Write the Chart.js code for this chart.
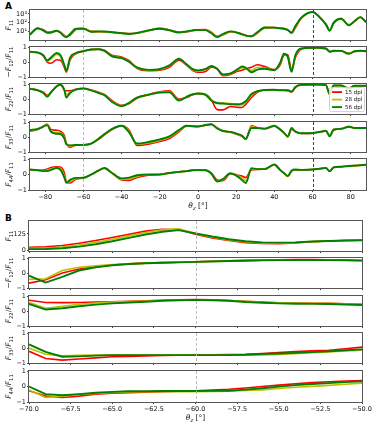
<!DOCTYPE html>
<html>
<head>
<meta charset="utf-8">
<script src="https://cdn.jsdelivr.net/npm/chart.js@4.4.1/dist/chart.umd.min.js"></script>
<style>
  body { margin: 0; background: #fff; width: 374px; height: 424px; position: relative; overflow: hidden; }
  canvas { position: absolute; left: 0; }
  .tag { position: absolute; left: 5px; font: bold 9px "DejaVu Sans"; line-height: 9px; color: #000; }
</style>
</head>
<body>
<div class="tag" style="top:2px">A</div>
<div class="tag" style="top:214px">B</div>
<script>
// ---- data ----
const SERIES = ['15 dpl', '28 dpl', '56 dpl'];
const COLORS = ['#ff0000', '#bfbf00', '#008000'];

// panel A: full angle range
const thetaA = [-88,-84,-81,-79,-77, -74,-72,-70,-69,-67, -64,-60,-56,-52,-49, -45,-40,-36,-32,-26,
  -20,-15,-10,-6,-3, 0,4,7,10,13, 17,21,23,25,28, 31,35,40,43,45, 47,49,51,54,60, 64,67,69,71,75, 79,82,85,88];
const ticksA = [-80, -60, -40, -20, 0, 20, 40, 60, 80];

const a11_15 = [4,22,15,8,7, 11,8,3.5,2.5,3.5, 16,22,10,9,9, 8,6.5,5.5,6,12,
  22,15,8,8.5,12, 15,16,8,2.8,4, 9,7,5,3.5,2.6, 6,25,28,23,21, 16,6,25,300,1650, 380,70,13,80,300, 55,130,420,120];
const a11_28 = [4.2,23,13,7.5,7.5, 11.5,7.5,3,2.3,4.2, 18,21,9.5,9.5,9.2, 8,6.2,5.2,6.2,12.5,
  21,14,7.8,9.2,12.5, 15,15,7,2.5,4.5, 9.5,6.8,4.8,3.4,2.7, 7,27,27.5,22.5,20.5, 15,6.8,32,320,1650, 360,65,12.5,90,290, 52,140,425,115];
const a11_56 = [4.3,23,12,7,8, 12,7,2.6,2.2,5, 20,20,9,10,9.5, 8,6,5,6.5,13,
  20,13,7.5,10,13, 15,14,6,2.2,5, 10,6.5,4.5,3.3,2.8, 8,28,27,22,20, 14,7.5,40,350,1650, 350,60,12,100,280, 50,150,430,110];

const a12_15 = [0.66,0.62,0.4,0,-0.08, 0.15,0.12,-0.35,-0.68,0.15, 0.55,0.72,0.83,0.85,0.78, 0.45,0.33,0.1,-0.42,-0.58,
  -0.55,-0.35,0.12,-0.2,-0.55, -0.68,-0.62,-0.35,-0.45,-0.9, -0.82,-0.6,-0.55,-0.45,-0.35, -0.18,-0.3,-0.5,-0.2,0.45,
  0.5,-0.5,0.3,0.85,0.95, 0.93,0.9,0.7,0.74,0.73, 0.58,0.7,0.74,0.7];
const a12_28 = [0.67,0.63,0.43,0.06,0.2, 0.5,0.35,-0.25,-0.62,0.25, 0.58,0.73,0.83,0.85,0.76, 0.4,0.28,0.03,-0.38,-0.54,
  -0.5,-0.26,0.2,-0.17,-0.5, -0.6,-0.5,-0.28,-0.42,-0.85, -0.78,-0.5,-0.4,-0.4,-0.55, -0.35,-0.4,-0.52,-0.1,0.52,
  0.4,-0.6,0.4,0.88,0.95, 0.94,0.9,0.69,0.75,0.74, 0.56,0.71,0.75,0.72];
const a12_56 = [0.68,0.64,0.45,0.1,0.3, 0.6,0.45,-0.2,-0.6,0.3, 0.6,0.73,0.83,0.85,0.74, 0.37,0.26,0,-0.35,-0.52,
  -0.46,-0.22,0.22,-0.15,-0.45, -0.55,-0.45,-0.26,-0.45,-0.82, -0.75,-0.45,-0.3,-0.38,-0.68, -0.5,-0.45,-0.54,-0.05,0.55,
  0.35,-0.65,0.45,0.9,0.95, 0.94,0.9,0.68,0.75,0.74, 0.55,0.72,0.75,0.73];

const a22_15 = [0.7,0.6,0.45,0.25,0.45, 0.85,0.93,0.6,0.55,0.55, 0.65,0.7,0.6,0.45,0.3, -0.1,-0.42,-0.3,0.05,0.3,
  0.48,0.55,0,0.1,0.28, 0.36,0.3,-0.05,-0.7,-0.72, -0.5,-0.55,-0.56,-0.35,0.1, 0.45,0.6,0.62,0.58,0.58,
  0.56,0.45,0.78,0.94,0.96, 0.96,0.93,0.3,0.9,0.9, 0.72,0.88,0.88,0.88];
const a22_28 = [0.69,0.59,0.42,0.2,0.45, 0.85,0.94,0.6,0.3,0.45, 0.63,0.7,0.59,0.42,0.27, -0.15,-0.45,-0.27,0.08,0.29,
  0.45,0.5,-0.05,0.13,0.29, 0.37,0.29,-0.08,-0.3,-0.25, -0.3,-0.4,-0.4,-0.22,0.25, 0.5,0.6,0.62,0.58,0.58,
  0.57,0.48,0.79,0.94,0.96, 0.96,0.93,0.32,0.9,0.9, 0.71,0.88,0.88,0.88];
const a22_56 = [0.68,0.58,0.4,0.15,0.45, 0.85,0.95,0.6,0.1,0.4, 0.62,0.7,0.58,0.4,0.25, -0.2,-0.47,-0.25,0.1,0.28,
  0.43,0.45,-0.1,0.15,0.3, 0.37,0.28,-0.1,-0.26,-0.3, -0.35,-0.35,-0.3,-0.15,0.33, 0.52,0.6,0.62,0.58,0.58,
  0.58,0.5,0.8,0.94,0.96, 0.96,0.93,0.33,0.9,0.9, 0.7,0.88,0.88,0.88];

const a33_15 = [0.4,0.5,0.72,0.85,0.5, 0.45,0.38,0.1,-0.4,-0.68, -0.55,-0.52,-0.45,-0.15,0.15, 0.5,0.75,0.45,-0.55,-0.47,
  -0.3,-0.1,0.35,0.72,0.72, 0.7,0.78,0.85,0.62,0.42, 0.32,0.15,0.05,-0.15,0.75, 0.62,0.55,0.72,0.52,0.3,
  0,0.5,0.38,0.24,0.26, 0.33,0.4,0.1,0.45,0.55, 0.7,0.6,0.6,0.62];
const a33_28 = [0.44,0.52,0.71,0.82,0.4, 0.3,0.28,-0.02,-0.45,-0.6, -0.54,-0.52,-0.44,-0.12,0.18, 0.52,0.75,0.38,-0.48,-0.4,
  -0.22,-0.02,0.42,0.74,0.72, 0.7,0.79,0.85,0.6,0.41, 0.33,0.18,0.08,-0.13,0.7, 0.61,0.56,0.74,0.51,0.29,
  0.03,0.55,0.36,0.25,0.27, 0.34,0.41,0.07,0.48,0.55, 0.69,0.6,0.6,0.61];
const a33_56 = [0.47,0.54,0.7,0.79,0.35, 0.22,0.2,-0.1,-0.47,-0.55, -0.53,-0.52,-0.43,-0.1,0.2, 0.54,0.75,0.3,-0.43,-0.33,
  -0.16,0.05,0.47,0.75,0.72, 0.7,0.8,0.85,0.57,0.4, 0.34,0.2,0.1,-0.12,0.6, 0.6,0.56,0.75,0.5,0.28,
  0.05,0.6,0.35,0.25,0.27, 0.35,0.42,0.05,0.5,0.55, 0.68,0.6,0.6,0.6];

const a44_15 = [0.3,0.27,0.28,0.35,0.45, 0.5,0.48,0.1,-0.45,-0.55, -0.3,-0.22,-0.02,0.25,0.4, 0.08,-0.35,-0.38,-0.2,-0.05,
  0,0.1,0.17,0.22,0.27, 0.28,0.27,0.1,-0.35,-0.4, 0.05,-0.05,-0.1,-0.2,0.3, 0.33,0.35,0.62,0.3,0.08,
  -0.12,0.22,0.3,0.3,0.32, 0.38,0.42,0.22,0.45,0.5, 0.56,0.57,0.6,0.63];
const a44_28 = [0.31,0.27,0.25,0.28,0.36, 0.45,0.38,-0.1,-0.5,-0.45, -0.26,-0.21,0,0.26,0.41, 0.09,-0.3,-0.28,-0.12,-0.02,
  0,0.1,0.17,0.22,0.27, 0.28,0.27,0.07,-0.4,-0.35, 0.06,-0.1,-0.22,-0.4,0.35, 0.34,0.35,0.64,0.3,0.09,
  -0.11,0.24,0.31,0.3,0.32, 0.38,0.42,0.21,0.46,0.5, 0.55,0.57,0.6,0.63];
const a44_56 = [0.32,0.27,0.22,0.22,0.3, 0.42,0.3,-0.2,-0.53,-0.35, -0.22,-0.21,0,0.27,0.42, 0.1,-0.25,-0.2,-0.05,0,
  0,0.1,0.17,0.22,0.27, 0.28,0.27,0.05,-0.45,-0.3, 0.08,-0.15,-0.35,-0.55,0.4, 0.35,0.35,0.65,0.3,0.1,
  -0.1,0.25,0.32,0.3,0.32, 0.38,0.42,0.2,0.46,0.5, 0.55,0.57,0.6,0.63];

// panel B: zoom on -70..-50, 1 degree steps
const thetaB = [-70,-69,-68,-67,-66,-65,-64,-63,-62,-61,-60,-59,-58,-57,-56,-55,-54,-53,-52,-51,-50];
const ticksB = [-70, -67.5, -65, -62.5, -60, -57.5, -55, -52.5, -50];

const b11_15 = [25,28,38,55,75,98,122,145,158,155,122,95,75,60,53,52,58,66,72,75,77];
const b11_28 = [18,20,27,42,62,85,110,135,155,162,128,100,80,65,57,56,60,67,72,75,77];
const b11_56 = [12,13,18,30,48,70,95,120,140,152,128,105,85,70,62,60,62,68,72,75,77];

const b12_15 = [-0.67,-0.45,0,0.27,0.42,0.54,0.61,0.66,0.69,0.72,0.75,0.78,0.81,0.84,0.86,0.88,0.89,0.89,0.88,0.86,0.82];
const b12_28 = [-0.42,-0.38,0.17,0.38,0.48,0.56,0.62,0.66,0.69,0.72,0.75,0.78,0.81,0.83,0.85,0.87,0.88,0.88,0.87,0.85,0.82];
const b12_56 = [-0.17,-0.63,-0.25,0.17,0.38,0.52,0.6,0.65,0.68,0.71,0.74,0.77,0.8,0.82,0.84,0.86,0.87,0.87,0.86,0.85,0.84];

const b22_15 = [0.72,0.57,0.56,0.57,0.59,0.62,0.65,0.68,0.72,0.75,0.77,0.74,0.7,0.64,0.6,0.55,0.53,0.52,0.51,0.48,0.45];
const b22_28 = [0.57,0.19,0.32,0.45,0.53,0.6,0.63,0.66,0.7,0.73,0.75,0.73,0.7,0.64,0.58,0.55,0.53,0.52,0.51,0.48,0.45];
const b22_56 = [0.47,0.1,0.19,0.32,0.43,0.51,0.57,0.62,0.68,0.72,0.74,0.72,0.68,0.6,0.55,0.51,0.49,0.48,0.47,0.44,0.4];

const b33_15 = [-0.22,-0.69,-0.8,-0.73,-0.65,-0.58,-0.55,-0.52,-0.5,-0.48,-0.47,-0.45,-0.43,-0.41,-0.36,-0.3,-0.24,-0.19,-0.15,-0.05,0.06];
const b33_28 = [0,-0.41,-0.52,-0.48,-0.47,-0.46,-0.46,-0.46,-0.47,-0.47,-0.48,-0.48,-0.48,-0.47,-0.46,-0.42,-0.37,-0.31,-0.26,-0.2,-0.15];
const b33_56 = [0.24,-0.26,-0.58,-0.55,-0.5,-0.47,-0.47,-0.47,-0.47,-0.47,-0.47,-0.47,-0.47,-0.45,-0.4,-0.36,-0.32,-0.27,-0.22,-0.15,-0.09];

const b44_15 = [-0.27,-0.62,-0.71,-0.62,-0.49,-0.44,-0.4,-0.36,-0.33,-0.3,-0.27,-0.23,-0.18,-0.1,0,0.09,0.18,0.25,0.31,0.35,0.38];
const b44_28 = [-0.22,-0.71,-0.62,-0.52,-0.45,-0.38,-0.35,-0.34,-0.33,-0.33,-0.33,-0.32,-0.3,-0.26,-0.22,-0.13,-0.05,0.01,0.07,0.15,0.22];
const b44_56 = [0,-0.49,-0.56,-0.49,-0.4,-0.35,-0.31,-0.3,-0.29,-0.29,-0.29,-0.28,-0.27,-0.2,-0.11,-0.01,0.09,0.16,0.22,0.28,0.33];

// y-axis titles as [text, style] pieces: i = italic, s = subscript
const T11 = [['F','i'],['11','s']];
const T12 = [['\u2212',''],['F','i'],['12','s'],['/',''],['F','i'],['11','s']];
const T22 = [['F','i'],['22','s'],['/',''],['F','i'],['11','s']];
const T33 = [['F','i'],['33','s'],['/',''],['F','i'],['11','s']];
const T44 = [['F','i'],['44','s'],['/',''],['F','i'],['11','s']];
const XTITLE = [['\u03b8','i'],['z','si'],[' [\u00b0]','']];

const FONT = '"DejaVu Sans"';
const minus = v => (v < 0 ? '\u2212' + String(-v) : String(v));

function drawMath(ctx, parts, size) {
  const fontOf = p => (p[1].includes('i') ? 'italic ' : '') + (p[1].includes('s') ? size * 0.7 : size) + 'px ' + FONT;
  let w = 0;
  parts.forEach(p => { ctx.font = fontOf(p); w += ctx.measureText(p[0]).width; });
  let x = -w / 2;
  parts.forEach(p => {
    ctx.font = fontOf(p);
    ctx.fillText(p[0], x, p[1].includes('s') ? size * 0.3 : 0);
    x += ctx.measureText(p[0]).width;
  });
}

const framePlugin = {
  id: 'frame',
  afterDatasetsDraw(chart, args, o) {
    const { ctx, chartArea: a } = chart;
    const xs = chart.scales.x;
    ctx.save();
    ctx.lineWidth = 1;
    (o.vlines || []).forEach(v => {
      const px = Math.round(xs.getPixelForValue(v.at)) + 0.5;
      ctx.strokeStyle = v.color;
      ctx.setLineDash([3, 2]);
      ctx.beginPath(); ctx.moveTo(px, a.top); ctx.lineTo(px, a.bottom); ctx.stroke();
    });
    ctx.setLineDash([]);
    ctx.strokeStyle = '#555';
    ctx.strokeRect(Math.round(a.left) - 0.5, Math.round(a.top) - 0.5, Math.round(a.right - a.left) + 1, Math.round(a.bottom - a.top) + 1);

    ctx.fillStyle = '#111';
    ctx.textBaseline = 'middle';
    ctx.save();
    ctx.translate(9, (a.top + a.bottom) / 2);
    ctx.rotate(-Math.PI / 2);
    drawMath(ctx, o.ytitle, 7.5);
    ctx.restore();

    if (o.xtitle) {
      ctx.save();
      ctx.translate((a.left + a.right) / 2, a.bottom + 16);
      drawMath(ctx, o.xtitle, 7.5);
      ctx.restore();
    }

    if (o.legend) {
      const bw = 35, bh = 24, x0 = a.right - bw - 2, y0 = a.bottom - bh - 3;
      ctx.fillStyle = 'rgba(255,255,255,0.85)';
      ctx.strokeStyle = '#d0d0d0';
      ctx.beginPath(); ctx.roundRect(x0 + 0.5, y0 + 0.5, bw, bh, 2); ctx.fill(); ctx.stroke();
      ctx.font = '5.5px ' + FONT;
      ctx.textBaseline = 'middle';
      SERIES.forEach((s, k) => {
        const yy = y0 + 5 + k * 7.5;
        ctx.strokeStyle = COLORS[k]; ctx.lineWidth = 1.8;
        ctx.beginPath(); ctx.moveTo(x0 + 3, yy); ctx.lineTo(x0 + 13, yy); ctx.stroke();
        ctx.fillStyle = '#111';
        ctx.fillText(s, x0 + 16, yy);
      });
    }
    ctx.restore();
  }
};

function panel(p) {
  const H = 31, padT = 6;
  p.rows.forEach((row, i) => {
    const last = i === p.rows.length - 1;
    const axisH = last ? 12 : 2, padB = last ? 12 : 2;
    const h = padT + H + axisH + padB;
    const cv = document.createElement('canvas');
    cv.width = 374; cv.height = h;
    cv.style.top = (p.tops[i] - padT) + 'px';
    cv.style.width = '374px'; cv.style.height = h + 'px';
    document.body.appendChild(cv);

    new Chart(cv, {
      type: 'line',
      data: {
        datasets: row.data.map((arr, k) => ({
          label: SERIES[k],
          data: arr.map((v, j) => ({ x: p.x[j], y: v })),
          borderColor: COLORS[k],
          borderWidth: k === 2 ? 1.9 : 1.6,
          pointRadius: 0,
          fill: false,
          order: 3 - k,
          tension: p.smooth ? 0.4 : 0,
          cubicInterpolationMode: p.smooth ? 'monotone' : 'default'
        }))
      },
      options: {
        responsive: false,
        animation: false,
        events: [],
        layout: { padding: { top: padT, right: 374 - p.right, left: 0, bottom: padB } },
        plugins: {
          legend: { display: false },
          tooltip: { enabled: false },
          frame: {
            ytitle: row.title,
            xtitle: last ? XTITLE : null,
            vlines: p.vlines,
            legend: !!row.legend
          }
        },
        scales: {
          x: {
            type: 'linear', min: p.min, max: p.max,
            afterBuildTicks: s => { s.ticks = p.ticks.map(v => ({ value: v })); },
            afterFit: s => { s.height = axisH; },
            grid: { drawOnChartArea: false, drawTicks: true, tickLength: 2, color: '#444' },
            border: { display: false },
            ticks: { display: last, autoSkip: false, maxRotation: 0, padding: 1, color: '#111',
              font: { family: FONT, size: 6.5 }, callback: p.fmt }
          },
          y: {
            type: row.log ? 'logarithmic' : 'linear', min: row.min, max: row.max,
            afterBuildTicks: s => { s.ticks = row.ticks.map(v => ({ value: v })); },
            afterFit: s => { s.width = p.left; },
            grid: { drawOnChartArea: false, drawTicks: true, tickLength: 2, color: '#444' },
            border: { display: false },
            ticks: { padding: 1, color: '#111', font: { family: FONT, size: 6.5 },
              callback: row.label || minus }
          }
        }
      },
      plugins: [framePlugin]
    });
  });
}

const SUP = { 10: '10\u00b9', 100: '10\u00b2', 1000: '10\u00b3' };
const ratioRow = (data, title, legend) => ({ data, title, legend, min: -1, max: 1, ticks: [-1, 0, 1] });

panel({
  x: thetaA, min: -88, max: 88, ticks: ticksA, left: 30, right: 366, smooth: true,
  tops: [10, 47, 84, 122, 159],
  fmt: v => minus(v),
  vlines: [{ at: -60, color: '#bbbbbb' }, { at: 60, color: '#444444' }],
  rows: [
    { data: [a11_15, a11_28, a11_56], title: T11, log: true, min: 1, max: 2800, ticks: [10, 100, 1000], label: v => SUP[v] || '' },
    ratioRow([a12_15, a12_28, a12_56], T12),
    ratioRow([a22_15, a22_28, a22_56], T22, true),
    ratioRow([a33_15, a33_28, a33_56], T33),
    ratioRow([a44_15, a44_28, a44_56], T44)
  ]
});

panel({
  x: thetaB, min: -70, max: -50, ticks: ticksB, left: 29, right: 362, smooth: false,
  tops: [221, 258, 296, 333, 371],
  fmt: v => (v < 0 ? '\u2212' : '') + Math.abs(v).toFixed(1),
  vlines: [{ at: -60, color: '#bbbbbb' }],
  rows: [
    { data: [b11_15, b11_28, b11_56], title: T11, min: -3, max: 220, ticks: [0, 125] },
    ratioRow([b12_15, b12_28, b12_56], T12),
    ratioRow([b22_15, b22_28, b22_56], T22),
    ratioRow([b33_15, b33_28, b33_56], T33),
    ratioRow([b44_15, b44_28, b44_56], T44)
  ]
});
</script>
</body>
</html>
